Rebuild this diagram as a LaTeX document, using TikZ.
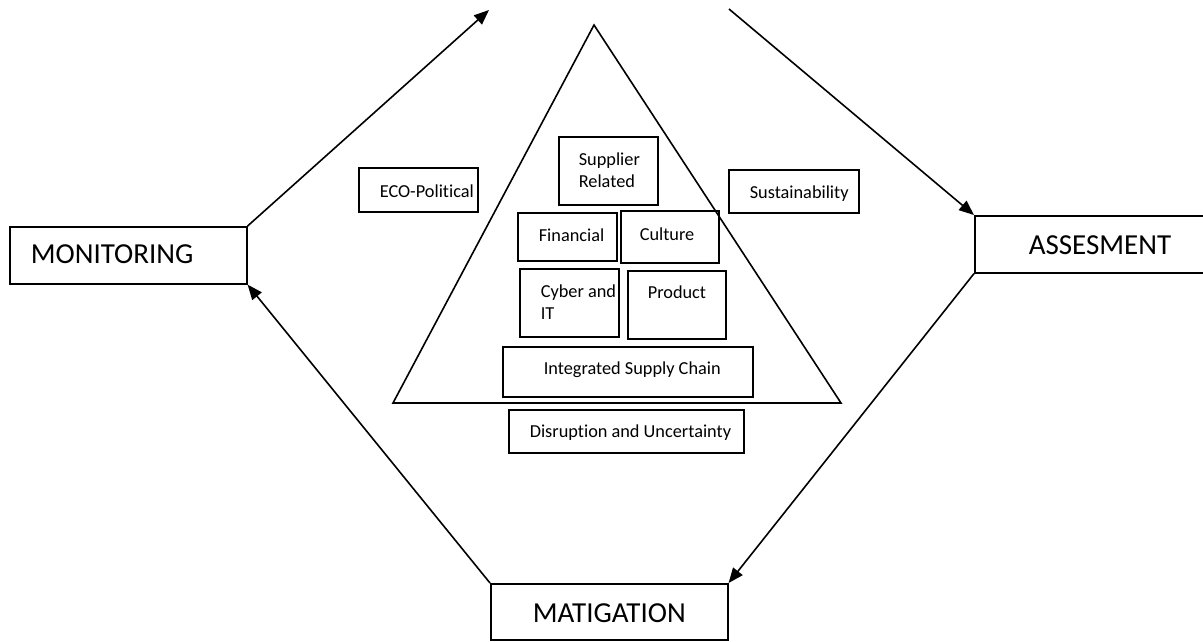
\documentclass[tikz,border=0pt]{standalone}
\usepackage{fontspec}
\setmainfont[Ligatures=NoCommon]{Carlito}
\usetikzlibrary{arrows.meta}
\tikzstyle{riskcycle}=[
    x=1pt, y=-1pt,
    >={Triangle[length=15pt,width=12pt]},
    line width=1.6pt,
    box/.style={draw, rectangle, inner sep=0pt, anchor=north west},
    small/.style={font=\fontsize{18.3}{21.8}\selectfont, inner sep=0pt, align=left},
    big/.style={font=\fontsize{29}{33}\selectfont, inner sep=0pt},
]

\begin{document}
\begin{tikzpicture}[riskcycle]
    \useasboundingbox (0,0) rectangle (1203,641);
    % stages of the cycle
    \node[box, minimum width=237, minimum height=57] (mon) at (9,226) {};
    \node[box, minimum width=250, minimum height=57] (ass) at (974,215) {};
    \node[box, minimum width=237, minimum height=56] (mat) at (490,583) {};
    \node[big, anchor=base west] (montxt) at (30,263) {MONITORING};
    \node[big, anchor=base west] (asstxt) at (1028,254) {ASSESMENT};
    \node[big, anchor=base west] (mattxt) at (532,622) {MATIGATION};
    \coordinate (toptip) at (489,10);
    \coordinate (topstart) at (729,9);
    \draw[->] (mon.north east) -- (toptip);
    \draw[->] (topstart) -- (ass.north west);
    \draw[->] (ass.south west) -- (mat.north east);
    \draw[->] (mat.north west) -- (mon.south east);
    % pyramid
    \draw (594,25) -- (393,403) -- (841,403) -- cycle;
    \node[box, minimum width=119, minimum height=44] (eco) at (358,167) {};
    \node[box, minimum width=99, minimum height=68] (sup) at (558,136) {};
    \node[box, minimum width=130, minimum height=43] (sus) at (728,169) {};
    \node[box, minimum width=99, minimum height=48] (fin) at (517,212) {};
    \node[box, minimum width=98, minimum height=52] (cul) at (620,210) {};
    \node[box, minimum width=99, minimum height=68] (cyb) at (519,268) {};
    \node[box, minimum width=98, minimum height=68] (pro) at (627,270) {};
    \node[box, minimum width=250, minimum height=50] (isc) at (502,346) {};
    \node[box, minimum width=235, minimum height=43] (dis) at (508,409) {};
    \node[small, anchor=base west] (ecotxt) at (379,197) {ECO-Political};
    \node[small, anchor=north west] (suptxt) at (578,152) {Supplier\\Related};
    \node[small, anchor=base west] (sustxt) at (749,198) {Sustainability};
    \node[small, anchor=base west] (fintxt) at (538,241) {Financial};
    \node[small, anchor=base west] (cultxt) at (639,240) {Culture};
    \node[small, anchor=north west] (cybtxt) at (540,284) {Cyber and\\IT};
    \node[small, anchor=base west] (protxt) at (647,298) {Product};
    \node[small, anchor=base west] (isctxt) at (543,374) {Integrated Supply Chain};
    \node[small, anchor=base west] (distxt) at (529,437) {Disruption and Uncertainty};
\end{tikzpicture}
\end{document}
